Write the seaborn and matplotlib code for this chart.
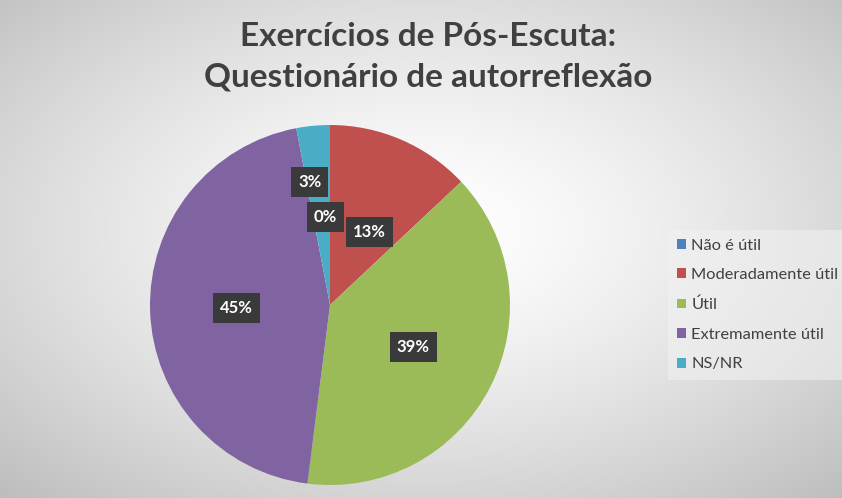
import numpy as np
import matplotlib.pyplot as plt
import seaborn as sns

categories = ["Não é útil", "Moderadamente útil", "Útil", "Extremamente útil", "NS/NR"]
percentages = [0, 13, 39, 45, 3]
colors = ["#4F81BD", "#C0504D", "#9BBB59", "#8064A2", "#4BACC6"]
title = "Exercícios de Pós-Escuta:\nQuestionário de autorreflexão"

sns.set_style("white")
plt.rcParams['font.family'] = ['Lato', 'DejaVu Sans']

fig = plt.figure(figsize=(8.42, 4.98), dpi=100)

# radial grey background like the Excel chart area
bg = fig.add_axes([0, 0, 1, 1], zorder=-10)
yy, xx = np.mgrid[0:498, 0:842]
r = np.hypot((xx - 425) / 842, (yy - 230) / 498)
t = np.clip(r / r.max(), 0, 1) ** 1.4
shade = 1.0 - t * (1.0 - 0.74)
bg.imshow(np.dstack([shade] * 3), aspect="auto", extent=[0, 1, 0, 1])
bg.axis("off")

ax = fig.add_axes([150 / 842, (498 - 305 - 180) / 498, 360 / 842, 360 / 498])
wedges, texts, autotexts = ax.pie(
    percentages, colors=colors, startangle=90, counterclock=False,
    autopct=lambda p: f"{p:.0f}%", pctdistance=0.52,
    wedgeprops=dict(linewidth=0),
)
ax.set_xlim(-1, 1)
ax.set_ylim(-1, 1)
ax.set_aspect("equal")

for at in autotexts:
    at.set_color("white")
    at.set_fontweight("bold")
    at.set_fontsize(12)
    at.set_bbox(dict(boxstyle="square,pad=0.42", facecolor="#3a3a3a", edgecolor="none"))

# Excel's "best fit" nudges a few labels
def place(i, dist, dangle=0.0):
    w = wedges[i]
    mid = np.deg2rad((w.theta1 + w.theta2) / 2 + dangle)
    autotexts[i].set_position((dist * np.cos(mid), dist * np.sin(mid)))

place(0, 0.49, 3)
place(1, 0.46, -5)
place(4, 0.69, 4)

fig.text(0.508, 0.886, title, ha="center", va="center", fontsize=24,
         fontweight="bold", color="#404040", linespacing=1.48)

leg = fig.legend(wedges, categories, loc="center left",
                 bbox_to_anchor=(660 / 842, (498 - 305) / 498),
                 frameon=True, fontsize=11.8, labelcolor="#404040",
                 handlelength=0.55, handleheight=0.55, handletextpad=0.3,
                 labelspacing=0.95, borderpad=0.55, fancybox=False)
leg.get_frame().set_facecolor("#f2f2f2")
leg.get_frame().set_alpha(0.55)
leg.get_frame().set_edgecolor("none")

fig.savefig("out.png", dpi=100)
